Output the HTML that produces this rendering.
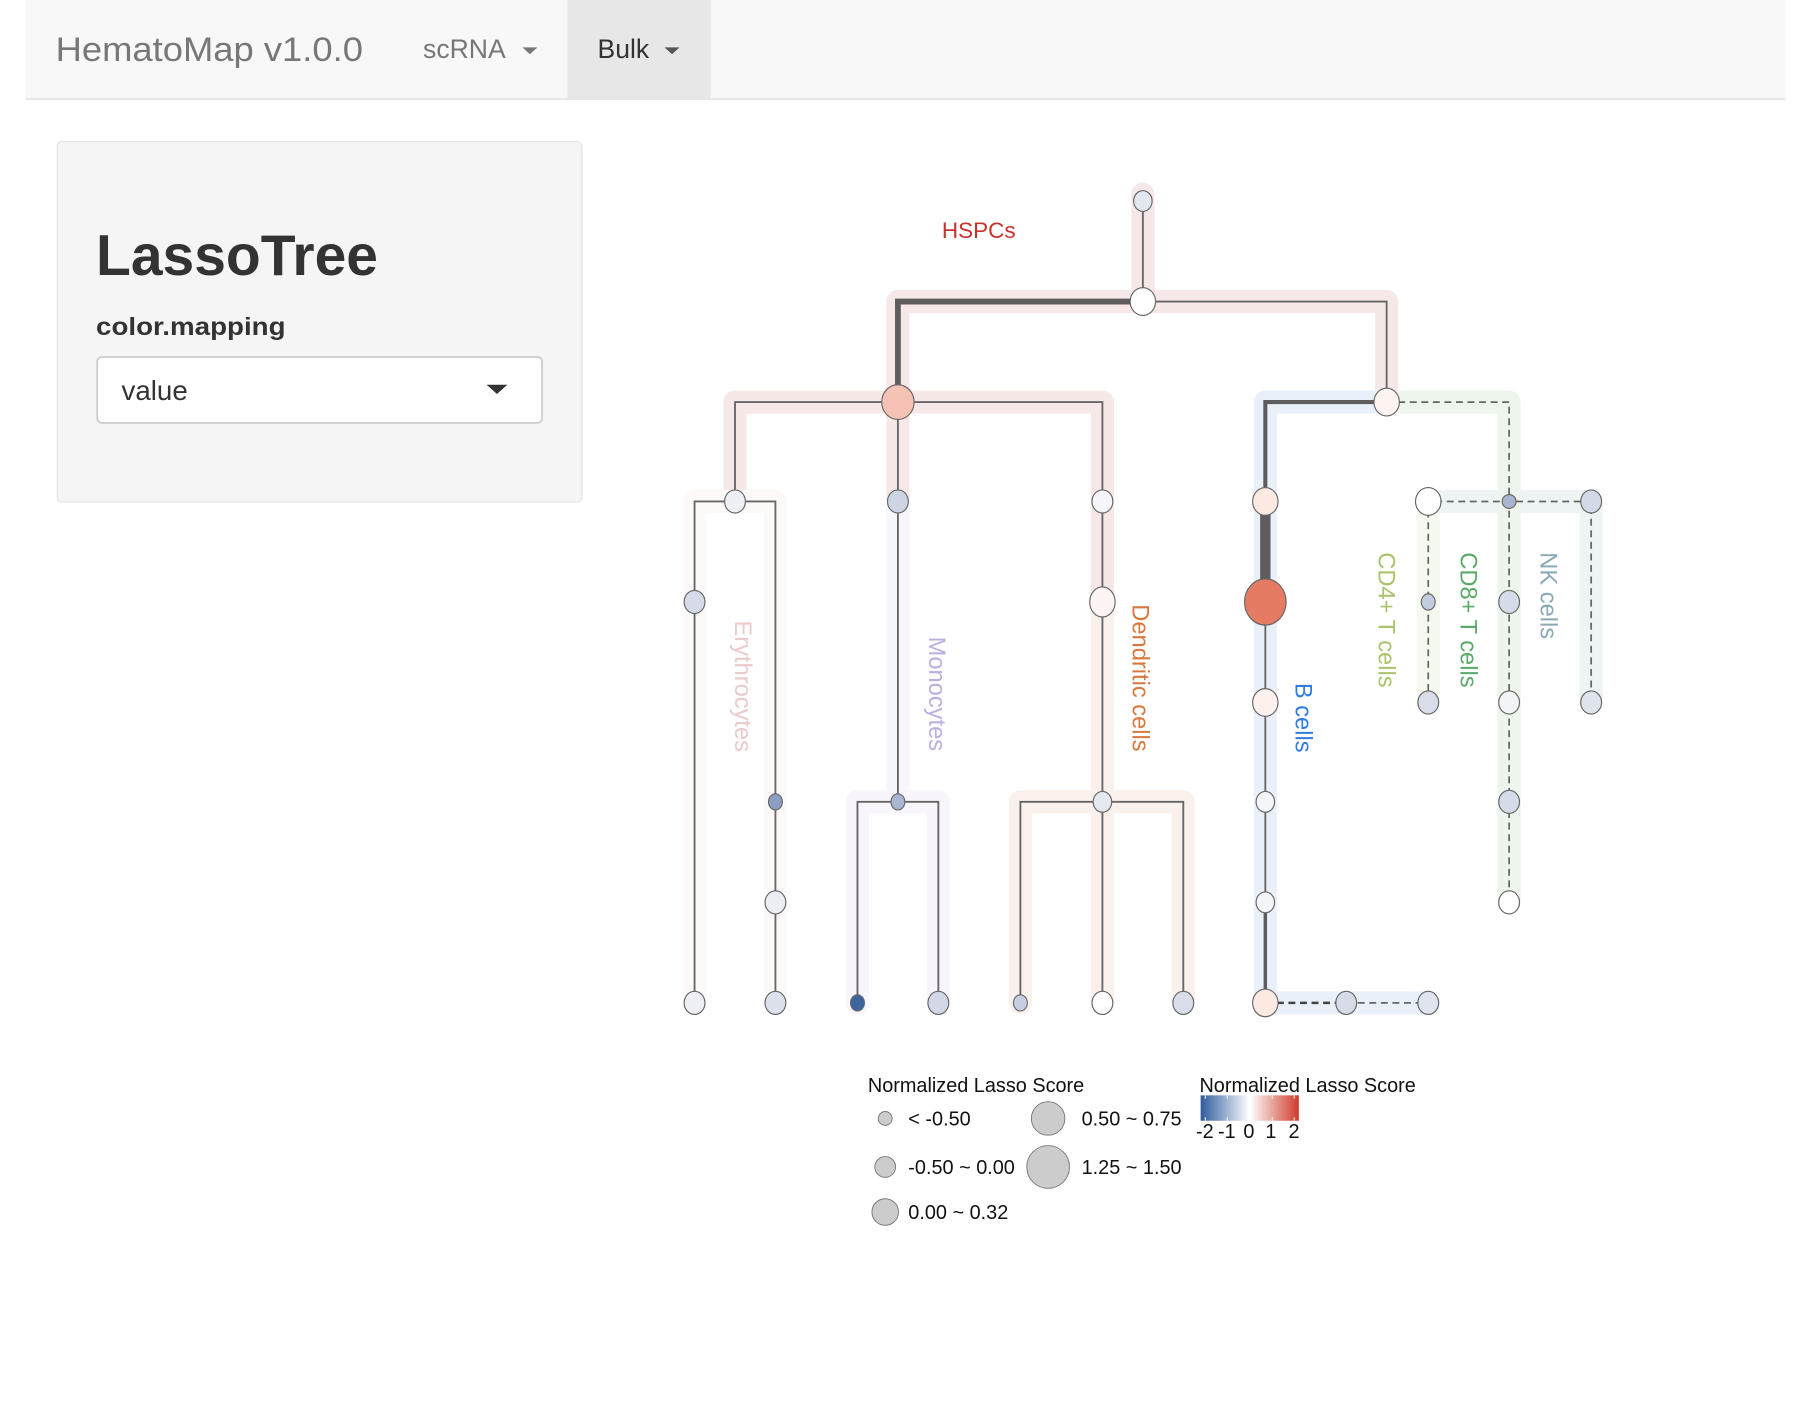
<!DOCTYPE html>
<html><head><meta charset="utf-8"><style>
html,body{margin:0;padding:0;background:#fff;width:1812px;height:1420px;overflow:hidden}
svg{display:block}
text{font-family:"Liberation Sans",sans-serif}
</style></head><body>
<svg width="1812" height="1420" viewBox="0 0 1568 1229" xmlns="http://www.w3.org/2000/svg">
<!-- navbar -->
<rect x="22" y="0" width="1523" height="85" fill="#f8f8f8"/>
<rect x="22" y="85" width="1523" height="1.5" fill="#e4e4e4"/>
<rect x="491" y="0" width="124" height="85" fill="#e7e7e7"/>
<text x="48" y="53" font-size="30" fill="#777" textLength="266" lengthAdjust="spacingAndGlyphs">HematoMap v1.0.0</text>
<text x="366" y="50" font-size="23" fill="#777">scRNA</text>
<path d="M452 41h13l-6.5 6z" fill="#777"/>
<text x="517" y="50" font-size="23" fill="#333">Bulk</text>
<path d="M575 41h13l-6.5 6z" fill="#555"/>
<!-- sidebar -->
<rect x="49.5" y="122.5" width="454" height="312" rx="4" fill="#f5f5f5" stroke="#e3e3e3"/>
<text x="83" y="238" font-size="50" font-weight="bold" fill="#333" textLength="244" lengthAdjust="spacingAndGlyphs">LassoTree</text>
<text x="83" y="290" font-size="22" font-weight="bold" fill="#333" textLength="164" lengthAdjust="spacingAndGlyphs">color.mapping</text>
<rect x="84" y="309" width="385" height="57" rx="4" fill="#fff" stroke="#ccc" stroke-width="1.5"/>
<text x="105" y="346" font-size="24" fill="#333">value</text>
<path d="M421 333h18l-9 8z" fill="#333"/>

<!-- halos -->
<g fill="none" stroke-linejoin="round" stroke-linecap="round" stroke-width="20">
<path d="M989 168V261M777 434V261H1200V348" stroke="#f7e8e8"/>
<path d="M636 424V348H954V521" stroke="#f7e8e8"/>
<path d="M601 868V434H671V868" stroke="#fef9f9"/>
<path d="M777 434V694M742 868V694H812V868" stroke="#f8f6fc"/>
<path d="M954 521V868M883 868V694H1024V868" stroke="#faf1ec"/>
<path d="M1200 348H1095V868H1236" stroke="#e9f0fa"/>
<path d="M1210 348H1306V781" stroke="#edf5ec"/>
<path d="M1236 434V608" stroke="#f6f9ef"/>
<path d="M1236 434H1377V608" stroke="#eef4f4"/>
<path d="M1306 434V781" stroke="#edf5ec"/>
</g>
<!-- edges -->
<g fill="none" stroke="#666" stroke-width="1.6">
<path d="M989 174V261H1200V348"/>
<path d="M636 434V348H954V521V868"/>
<path d="M777 348V694"/>
<path d="M601 868V434H671V868"/>
<path d="M742 868V694H812V868"/>
<path d="M883 868V694H1024V868"/>
<path d="M1095 521V781"/>
</g>
<path d="M989 261H777V348" fill="none" stroke="#5e5c5c" stroke-width="5"/>
<path d="M1200 348H1095V434" fill="none" stroke="#5e5c5c" stroke-width="3.5"/>
<path d="M1095 434V521" stroke="#5e5c5c" stroke-width="9"/>
<path d="M1095 781V868" stroke="#5e5c5c" stroke-width="3"/>
<g fill="none" stroke="#666" stroke-width="1.5" stroke-dasharray="6 4">
<path d="M1200 348H1306V781"/>
<path d="M1236 608V434H1377V608"/>
<path d="M1165 868H1236"/>
</g>
<path d="M1095 868H1165" stroke="#444" stroke-width="2.2" stroke-dasharray="6 4"/>

<!-- nodes -->
<g stroke="#666" stroke-width="1">
<ellipse cx="989" cy="174" rx="8" ry="9" fill="#e3e7f0"/>
<ellipse cx="989" cy="261" rx="11" ry="12" fill="#fff"/>
<ellipse cx="777" cy="348" rx="14" ry="15" fill="#f5c2b5"/>
<ellipse cx="1200" cy="348" rx="11" ry="12" fill="#fdf3f1"/>
<ellipse cx="636" cy="434" rx="9" ry="10" fill="#eef0f6"/>
<ellipse cx="777" cy="434" rx="9" ry="10" fill="#cdd4e4"/>
<ellipse cx="954" cy="434" rx="9" ry="10" fill="#f5f6fa"/>
<ellipse cx="601" cy="521" rx="9" ry="10" fill="#d5dbe8"/>
<ellipse cx="671" cy="694" rx="6" ry="7" fill="#8d9dc3"/>
<ellipse cx="671" cy="781" rx="9" ry="10" fill="#eceef4"/>
<ellipse cx="601" cy="868" rx="9" ry="10" fill="#eef0f5"/>
<ellipse cx="671" cy="868" rx="9" ry="10" fill="#dde1ec"/>
<ellipse cx="777" cy="694" rx="6" ry="7" fill="#a9b5d1"/>
<ellipse cx="742" cy="868" rx="6" ry="7" fill="#3e64a0"/>
<ellipse cx="812" cy="868" rx="9" ry="10" fill="#d2d8e7"/>
<ellipse cx="954" cy="521" rx="11" ry="13" fill="#fdf5f3"/>
<ellipse cx="954" cy="694" rx="8" ry="9" fill="#e4e8f1"/>
<ellipse cx="883" cy="868" rx="6" ry="7" fill="#c7cfe2"/>
<ellipse cx="954" cy="868" rx="9" ry="10" fill="#fff"/>
<ellipse cx="1024" cy="868" rx="9" ry="10" fill="#d8dde9"/>
<ellipse cx="1095" cy="434" rx="11" ry="12" fill="#fbe9e2"/>
<ellipse cx="1095" cy="521" rx="18" ry="20" fill="#e57b63"/>
<ellipse cx="1095" cy="608" rx="11" ry="12" fill="#fdf1ee"/>
<ellipse cx="1095" cy="694" rx="8" ry="9" fill="#f5f6fa"/>
<ellipse cx="1095" cy="781" rx="8" ry="9" fill="#f4f5f9"/>
<ellipse cx="1095" cy="868" rx="11" ry="12" fill="#fbe9e2"/>
<ellipse cx="1165" cy="868" rx="9" ry="10" fill="#d8dce8"/>
<ellipse cx="1236" cy="868" rx="9" ry="10" fill="#e0e4ee"/>
<ellipse cx="1236" cy="434" rx="11" ry="12" fill="#fff"/>
<ellipse cx="1306" cy="434" rx="6" ry="6" fill="#a9b5d1"/>
<ellipse cx="1377" cy="434" rx="9" ry="10" fill="#d3d9e7"/>
<ellipse cx="1236" cy="521" rx="6" ry="7" fill="#c4cce0"/>
<ellipse cx="1236" cy="608" rx="9" ry="10" fill="#d8dde9"/>
<ellipse cx="1306" cy="521" rx="9" ry="10" fill="#d5dbe8"/>
<ellipse cx="1306" cy="608" rx="9" ry="10" fill="#f3f4f8"/>
<ellipse cx="1306" cy="694" rx="9" ry="10" fill="#d5dbe8"/>
<ellipse cx="1306" cy="781" rx="9" ry="10" fill="#fff"/>
<ellipse cx="1377" cy="608" rx="9" ry="10" fill="#dfe3ec"/>
</g>

<!-- labels -->
<text x="815" y="206" font-size="19.5" fill="#c8322b">HSPCs</text>
<g font-size="20.5">
<text transform="translate(636,537) rotate(90)" fill="#eacaca">Erythrocytes</text>
<text transform="translate(804,551) rotate(90)" fill="#bcaee0">Monocytes</text>
<text transform="translate(980,523) rotate(90)" fill="#d9773c">Dendritic cells</text>
<text transform="translate(1121,591) rotate(90)" fill="#2f7de0">B cells</text>
<text transform="translate(1193,478) rotate(90)" fill="#a9c46a">CD4+ T cells</text>
<text transform="translate(1264,478) rotate(90)" fill="#5aab6a">CD8+ T cells</text>
<text transform="translate(1333,478) rotate(90)" fill="#8aa8b5">NK cells</text>
</g>

<!-- legend -->
<defs><linearGradient id="g" x1="0" x2="1"><stop offset="0" stop-color="#2f5c9e"/><stop offset="0.5" stop-color="#ffffff"/><stop offset="1" stop-color="#cf3a2c"/></linearGradient></defs>
<g font-size="17.2" fill="#111">
<text x="751" y="945">Normalized Lasso Score</text>
<text x="1038" y="945">Normalized Lasso Score</text>
<text x="786" y="974">&lt; -0.50</text>
<text x="786" y="1016">-0.50 ~ 0.00</text>
<text x="786" y="1055">0.00 ~ 0.32</text>
<text x="936" y="974">0.50 ~ 0.75</text>
<text x="936" y="1016">1.25 ~ 1.50</text>
<text x="1035" y="985">-2</text><text x="1054" y="985">-1</text><text x="1076" y="985">0</text><text x="1095" y="985">1</text><text x="1115" y="985">2</text>
</g>
<g fill="#cccccc" stroke="#777" stroke-width="0.8">
<circle cx="766" cy="968" r="6"/>
<circle cx="766" cy="1010" r="9"/>
<circle cx="766" cy="1049" r="11.5"/>
<circle cx="907" cy="968" r="14.5"/>
<circle cx="907" cy="1010" r="18.5"/>
</g>
<rect x="1039" y="948" width="85" height="22" fill="url(#g)"/>
<g stroke="#fff" stroke-width="0.8"><path d="M1043 948v3M1062 948v3M1081 948v3M1101 948v3M1120 948v3M1043 970v-3M1062 970v-3M1081 970v-3M1101 970v-3M1120 970v-3"/></g>
</svg>
</body></html>
